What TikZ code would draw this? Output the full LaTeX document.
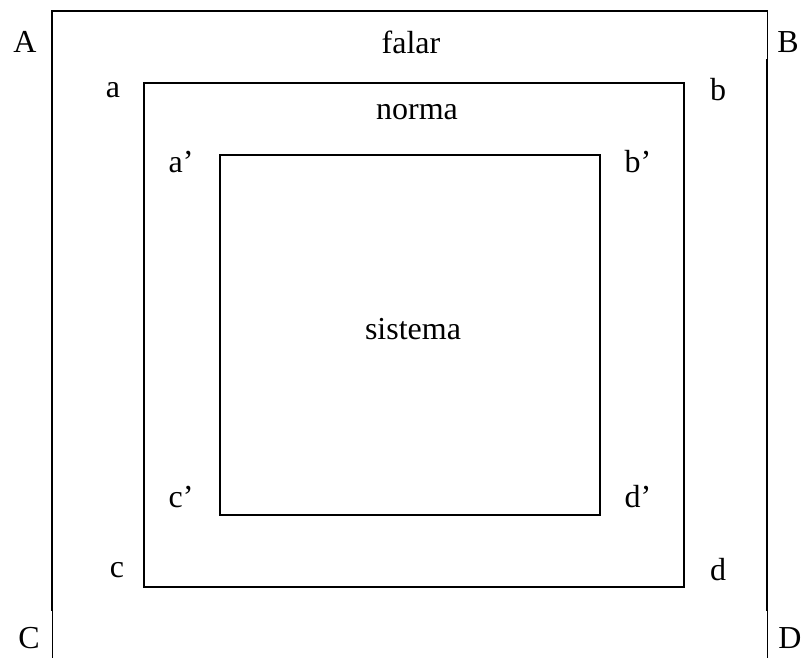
\documentclass[tikz,border=0pt]{standalone}
\usepackage{fontspec}
\setmainfont{Liberation Serif}
\begin{document}
\begin{tikzpicture}[x=1pt,y=-1pt,
  thick line/.style={line width=1.6pt,line cap=rect},
  thin line/.style={line width=0.8pt},
  lbl/.style={font=\fontsize{32}{36}\selectfont,inner sep=0pt}]
\useasboundingbox (0,0) rectangle (811,658);
% outer frame
\draw[thick line] (52,610) -- (52,11) -- (767,11);
\draw[thin line] (767,11) -- (767,60);
\draw[thick line] (767,60) -- (767,610);
\draw[thin line] (52,610) -- (52,658);
\draw[thin line] (767,610) -- (767,658);
% middle frame
\draw[thick line] (144,83) rectangle (684,587);
% inner frame
\draw[thick line] (220,155) rectangle (600,515);
% labels
\node[lbl] (A) at (25,42) {A};
\node[lbl] (B) at (788,42) {B};
\node[lbl] (C) at (29,638) {C};
\node[lbl] (D) at (790,638) {D};
\node[lbl] (falar) at (411,42) {falar};
\node[lbl] (a) at (113,90) {a};
\node[lbl] (b) at (718,90) {b};
\node[lbl] (c) at (117,570) {c};
\node[lbl] (d) at (718,570) {d};
\node[lbl] (norma) at (417,112) {norma};
\node[lbl] (a') at (181,162) {a’};
\node[lbl] (b') at (638,162) {b’};
\node[lbl] (c') at (181,497) {c’};
\node[lbl] (d') at (638,497) {d’};
\node[lbl] (sistema) at (413,329) {sistema};
\end{tikzpicture}
\end{document}
